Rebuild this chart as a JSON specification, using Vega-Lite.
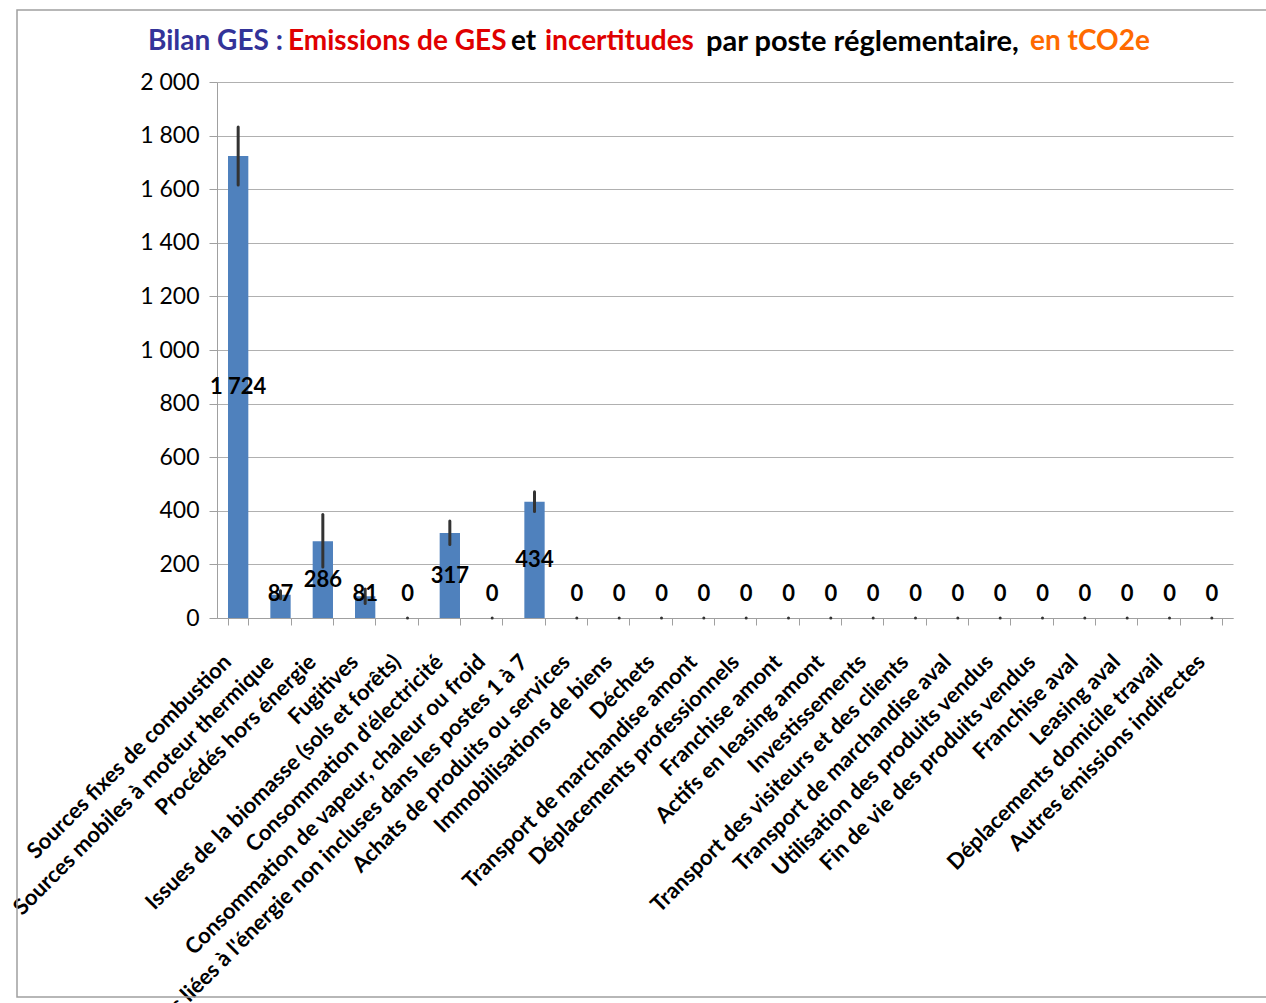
{
  "$schema": "https://vega.github.io/schema/vega-lite/v6.json",
  "width": 1016,
  "height": 536,
  "autosize": {"type": "none"},
  "padding": {"left": 217, "top": 82, "right": 33, "bottom": 385},
  "background": "white",
  "config": {
    "view": {"stroke": null},
    "font": "Lato",
    "axis": {"labelColor": "black", "labelFont": "Lato"}
  },
  "datasets": {
    "postes": [
      {"poste": "Sources fixes de combustion", "valeur": 1724, "bas": 1616, "haut": 1832},
      {"poste": "Sources mobiles à moteur thermique", "valeur": 87, "bas": 72, "haut": 102},
      {"poste": "Procédés hors énergie", "valeur": 286, "bas": 190, "haut": 386},
      {"poste": "Fugitives", "valeur": 81, "bas": 54, "haut": 108},
      {"poste": "Issues de la biomasse (sols et forêts)", "valeur": 0, "bas": 0, "haut": 0},
      {"poste": "Consommation d'électricité", "valeur": 317, "bas": 274, "haut": 362},
      {"poste": "Consommation de vapeur, chaleur ou froid", "valeur": 0, "bas": 0, "haut": 0},
      {"poste": "Emissions liées à l'énergie non incluses dans les postes 1 à 7", "valeur": 434, "bas": 397, "haut": 471},
      {"poste": "Achats de produits ou services", "valeur": 0, "bas": 0, "haut": 0},
      {"poste": "Immobilisations de biens", "valeur": 0, "bas": 0, "haut": 0},
      {"poste": "Déchets", "valeur": 0, "bas": 0, "haut": 0},
      {"poste": "Transport de marchandise amont", "valeur": 0, "bas": 0, "haut": 0},
      {"poste": "Déplacements professionnels", "valeur": 0, "bas": 0, "haut": 0},
      {"poste": "Franchise amont", "valeur": 0, "bas": 0, "haut": 0},
      {"poste": "Actifs en leasing amont", "valeur": 0, "bas": 0, "haut": 0},
      {"poste": "Investissements", "valeur": 0, "bas": 0, "haut": 0},
      {"poste": "Transport des visiteurs et des clients", "valeur": 0, "bas": 0, "haut": 0},
      {"poste": "Transport de marchandise aval", "valeur": 0, "bas": 0, "haut": 0},
      {"poste": "Utilisation des produits vendus", "valeur": 0, "bas": 0, "haut": 0},
      {"poste": "Fin de vie des produits vendus", "valeur": 0, "bas": 0, "haut": 0},
      {"poste": "Franchise aval", "valeur": 0, "bas": 0, "haut": 0},
      {"poste": "Leasing aval", "valeur": 0, "bas": 0, "haut": 0},
      {"poste": "Déplacements domicile travail", "valeur": 0, "bas": 0, "haut": 0},
      {"poste": "Autres émissions indirectes", "valeur": 0, "bas": 0, "haut": 0}
    ],
    "titre": [
      {"partie": "Bilan GES :"},
      {"partie": "Emissions de GES"},
      {"partie": "et"},
      {"partie": "incertitudes"},
      {"partie": "par poste réglementaire,"},
      {"partie": "en tCO2e"}
    ]
  },
  "layer": [
    {
      "data": {"values": [{}]},
      "mark": {"type": "rect", "fill": null, "stroke": "#a0a0a0", "strokeWidth": 1.5, "x": -200, "x2": 1060, "y": -72, "y2": 915},
      "encoding": {}
    },
    {
      "data": {"name": "postes"},
      "mark": {"type": "bar", "color": "#4F81BD"},
      "encoding": {
        "x": {
          "field": "poste", "type": "nominal", "sort": null,
          "scale": {"paddingInner": 0.52, "paddingOuter": 0.26},
          "axis": {
            "title": null,
            "labelAngle": -45,
            "labelAlign": "right",
            "labelBaseline": "middle",
            "labelFontSize": 22,
            "labelFontWeight": "bold",
            "labelPadding": 33,
            "labelOffset": -11,
            "labelLimit": 0,
            "labelOverlap": false,
            "tickBand": "extent",
            "tickSize": 7,
            "tickColor": "#a0a0a0",
            "domainColor": "#a0a0a0",
            "grid": false
          }
        },
        "y": {
          "field": "valeur", "type": "quantitative",
          "scale": {"domain": [0, 2000], "nice": false},
          "axis": {
            "title": null,
            "values": [0, 200, 400, 600, 800, 1000, 1200, 1400, 1600, 1800, 2000],
            "labelExpr": "replace(format(datum.value, ',d'), ',', ' ')",
            "labelFontSize": 23,
            "labelPadding": 10,
            "tickSize": 8,
            "tickColor": "#a0a0a0",
            "domainColor": "#a0a0a0",
            "gridColor": "#b0b0b0",
            "gridWidth": 1
          }
        }
      }
    },
    {
      "data": {"name": "postes"},
      "mark": {"type": "rule", "color": "#333333", "strokeWidth": 3, "strokeCap": "round"},
      "encoding": {
        "x": {"field": "poste", "type": "nominal", "sort": null},
        "y": {"field": "bas", "type": "quantitative"},
        "y2": {"field": "haut"}
      }
    },
    {
      "data": {"name": "postes"},
      "transform": [
        {"calculate": "max(datum.valeur / 2, 90)", "as": "pos"},
        {"calculate": "replace(format(datum.valeur, ',d'), ',', ' ')", "as": "etiquette"}
      ],
      "mark": {"type": "text", "font": "Lato", "fontWeight": "bold", "fontSize": 22, "baseline": "middle", "align": "center", "color": "black"},
      "encoding": {
        "x": {"field": "poste", "type": "nominal", "sort": null},
        "y": {"field": "pos", "type": "quantitative"},
        "text": {"field": "etiquette"}
      }
    },
    {
      "data": {"name": "titre"},
      "transform": [{"filter": "datum.partie == 'Bilan GES :'"}],
      "mark": {"type": "text", "font": "Lato", "fontWeight": "bold", "fontSize": 28, "align": "left", "baseline": "middle", "color": "#333399", "x": -69, "y": -40},
      "encoding": {"text": {"field": "partie"}}
    },
    {
      "data": {"name": "titre"},
      "transform": [{"filter": "datum.partie == 'Emissions de GES'"}],
      "mark": {"type": "text", "font": "Lato", "fontWeight": "bold", "fontSize": 28, "align": "left", "baseline": "middle", "color": "#E00000", "x": 71, "y": -40},
      "encoding": {"text": {"field": "partie"}}
    },
    {
      "data": {"name": "titre"},
      "transform": [{"filter": "datum.partie == 'et'"}],
      "mark": {"type": "text", "font": "Lato", "fontWeight": "bold", "fontSize": 28, "align": "left", "baseline": "middle", "color": "black", "x": 294, "y": -40},
      "encoding": {"text": {"field": "partie"}}
    },
    {
      "data": {"name": "titre"},
      "transform": [{"filter": "datum.partie == 'incertitudes'"}],
      "mark": {"type": "text", "font": "Lato", "fontWeight": "bold", "fontSize": 28, "align": "left", "baseline": "middle", "color": "#E00000", "x": 328, "y": -40},
      "encoding": {"text": {"field": "partie"}}
    },
    {
      "data": {"name": "titre"},
      "transform": [{"filter": "datum.partie == 'par poste réglementaire,'"}],
      "mark": {"type": "text", "font": "Lato", "fontWeight": "bold", "fontSize": 29, "align": "left", "baseline": "middle", "color": "black", "x": 489, "y": -40},
      "encoding": {"text": {"field": "partie"}}
    },
    {
      "data": {"name": "titre"},
      "transform": [{"filter": "datum.partie == 'en tCO2e'"}],
      "mark": {"type": "text", "font": "Lato", "fontWeight": "bold", "fontSize": 28, "align": "left", "baseline": "middle", "color": "#FF6A00", "x": 813, "y": -40},
      "encoding": {"text": {"field": "partie"}}
    }
  ]
}
